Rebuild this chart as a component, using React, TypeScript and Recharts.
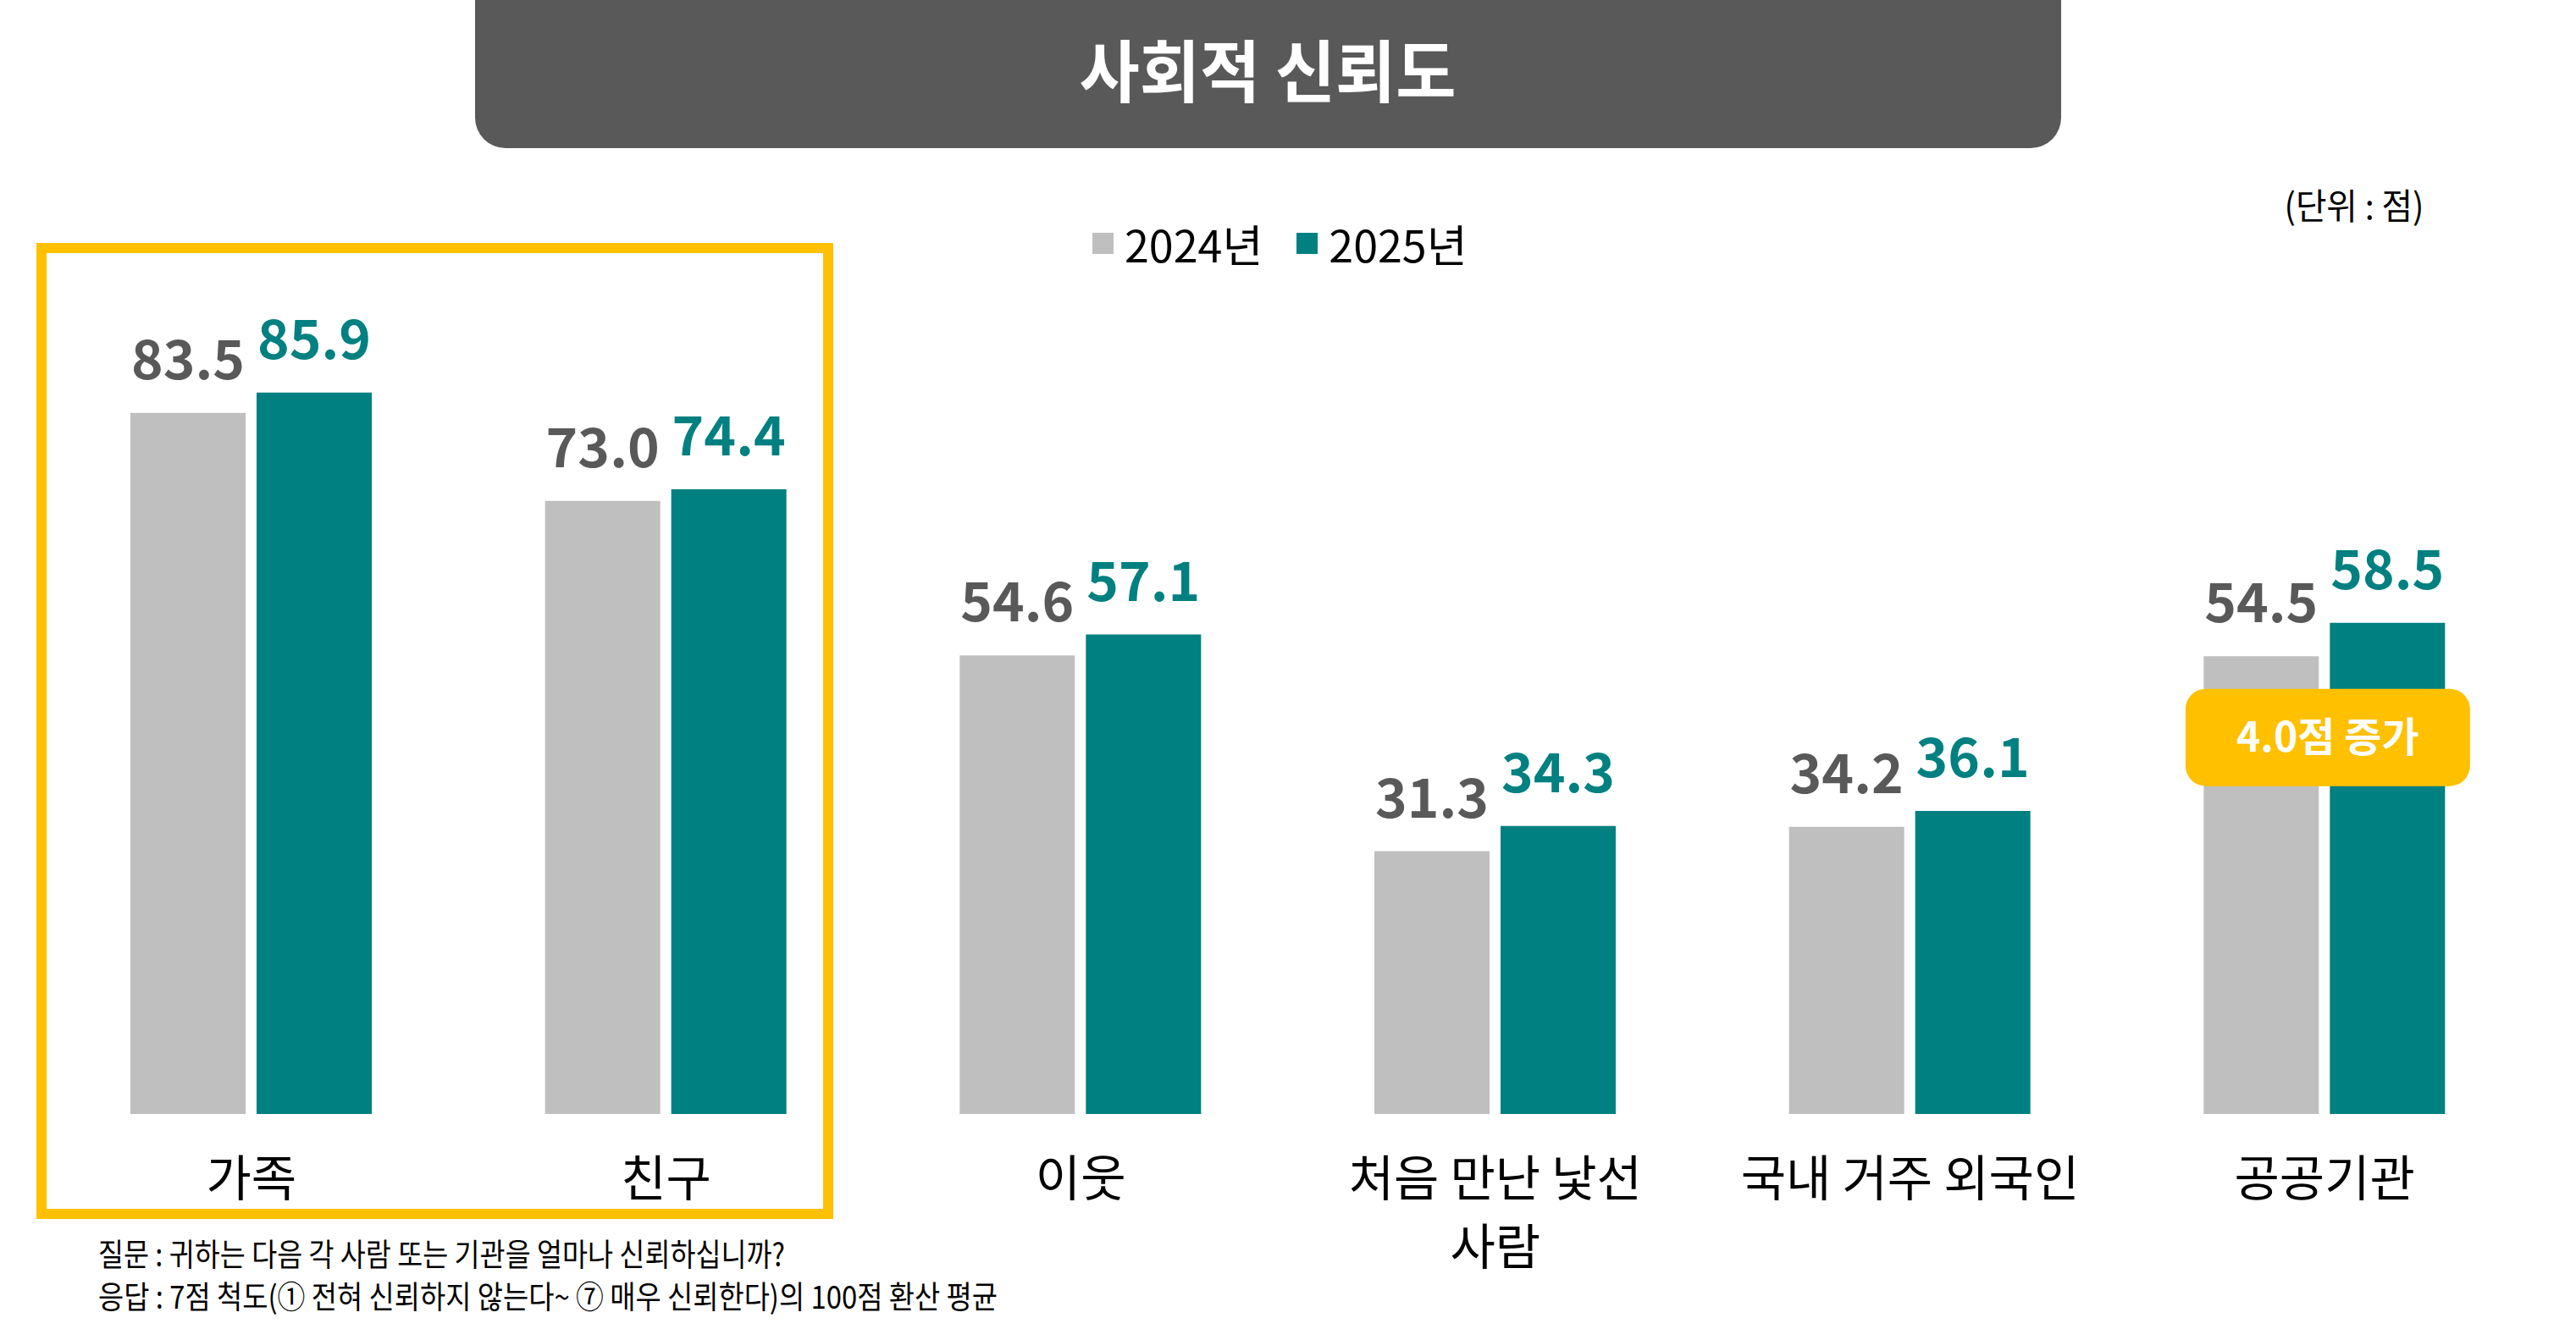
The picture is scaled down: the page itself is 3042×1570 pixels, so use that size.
import React from "react";
import { BarChart, Bar, XAxis, YAxis, LabelList, Legend } from "recharts";

const FONT = "'Noto Sans CJK KR', 'Noto Sans', sans-serif";

const categories = ["가족", "친구", "이웃", "처음 만난 낯선\n사람", "국내 거주 외국인", "공공기관"];
const values2024 = [83.5, 73.0, 54.6, 31.3, 34.2, 54.5];
const values2025 = [85.9, 74.4, 57.1, 34.3, 36.1, 58.5];
const seriesNames = ["2024년", "2025년"];
const seriesColors = ["#BFBFBF", "#008080"];
const labelColors = ["#595959", "#008080"];
const calloutIndex = 5;

const title = "사회적 신뢰도";
const unitText = "(단위 : 점)";
const notes = [
  "질문 : 귀하는 다음 각 사람 또는 기관을 얼마나 신뢰하십니까?",
  "응답 : 7점 척도(① 전혀 신뢰하지 않는다~ ⑦ 매우 신뢰한다)의 100점 환산 평균",
];

const data = categories.map((name, i) => ({
  name,
  y2024: values2024[i],
  y2025: values2025[i],
}));

const W = 3042;
const H = 1570;
const BAR_SIZE = 136;
const BAR_GAP = 13;

const CategoryTick = (props: any) => {
  const { x, y, payload } = props;
  const lines = String(payload.value).split("\n");
  return (
    <text x={x} y={y} textAnchor="middle" fill="#000" fontSize={58} fontFamily={FONT}>
      {lines.map((line, i) => (
        <tspan key={i} x={x} dy={i === 0 ? 97 : 81}>
          {line}
        </tspan>
      ))}
    </text>
  );
};

const Callout = (props: any) => {
  const box = props.viewBox ?? props;
  const idx = props.index ?? values2025.indexOf(Number(props.value));
  if (idx !== calloutIndex) return null;
  const { x, y, width } = box;
  const diff = (values2025[idx] - values2024[idx]).toFixed(1);
  const cx = x + width / 2 - (BAR_SIZE + BAR_GAP) / 2 + 4;
  const w = 336;
  const h = 115;
  const top = y + 78;
  return (
    <g>
      <rect x={cx - w / 2} y={top} width={w} height={h} rx={24} fill="#FFC000" />
      <text
        x={cx}
        y={top + h / 2 + 17}
        textAnchor="middle"
        fill="#fff"
        fontSize={48}
        fontWeight={700}
        fontFamily={FONT}
      >
        {diff}점 증가
      </text>
    </g>
  );
};

const LegendContent = () => (
  <div style={{ display: "flex", alignItems: "center", fontFamily: FONT, fontSize: 52, color: "#000" }}>
    {seriesNames.map((s, i) => (
      <div key={s} style={{ display: "flex", alignItems: "center", marginRight: 40 }}>
        <span style={{ width: 25, height: 25, background: seriesColors[i], marginRight: 13 }} />
        <span>{s}</span>
      </div>
    ))}
  </div>
);

const fmt = (v: any) => Number(v).toFixed(1);

export default function App() {
  return (
    <div style={{ position: "relative", width: W, height: H, overflow: "hidden", background: "#fff" }}>
      <style>{`body{margin:0;}`}</style>
      <BarChart
        width={W}
        height={H}
        data={data}
        margin={{ top: 324, right: 52, bottom: 104, left: 52 }}
        barSize={BAR_SIZE}
        barGap={BAR_GAP}
      >
        <XAxis
          dataKey="name"
          height={150}
          axisLine={false}
          tickLine={false}
          tickSize={0}
          tickMargin={0}
          interval={0}
          tick={<CategoryTick />}
        />
        <YAxis hide domain={[0, 100]} />
        <Legend
          layout="horizontal"
          verticalAlign="middle"
          align="center"
          wrapperStyle={{ top: 250, left: 1290, width: 500, height: 70 }}
          content={<LegendContent />}
        />
        <Bar dataKey="y2024" name={seriesNames[0]} fill={seriesColors[0]} isAnimationActive={false}>
          <LabelList
            dataKey="y2024"
            position="top"
            offset={40}
            formatter={fmt}
            fill={labelColors[0]}
            fontSize={64}
            fontWeight={700}
            fontFamily={FONT}
          />
        </Bar>
        <Bar dataKey="y2025" name={seriesNames[1]} fill={seriesColors[1]} isAnimationActive={false}>
          <LabelList
            dataKey="y2025"
            position="top"
            offset={40}
            formatter={fmt}
            fill={labelColors[1]}
            fontSize={64}
            fontWeight={700}
            fontFamily={FONT}
          />
          <LabelList dataKey="y2025" content={<Callout />} />
        </Bar>
      </BarChart>
      <svg
        width={W}
        height={H}
        style={{ position: "absolute", left: 0, top: 0, pointerEvents: "none" }}
        fontFamily={FONT}
      >
        <rect x={561} y={-40} width={1873} height={215} rx={36} fill="#595959" />
        <text
          x={1497}
          y={114}
          textAnchor="middle"
          fill="#fff"
          fontSize={80}
          fontWeight={700}
          textLength={445}
          lengthAdjust="spacingAndGlyphs"
        >
          {title}
        </text>
        <text
          x={2780}
          y={259}
          textAnchor="middle"
          fill="#000"
          fontSize={42}
          textLength={165}
          lengthAdjust="spacingAndGlyphs"
        >
          {unitText}
        </text>
        <rect x={49} y={293} width={929} height={1141} fill="none" stroke="#FFC000" strokeWidth={12} />
        <text x={116} y={1496} fill="#000" fontSize={37} textLength={811} lengthAdjust="spacingAndGlyphs">
          {notes[0]}
        </text>
        <text x={116} y={1546} fill="#000" fontSize={37} textLength={1062} lengthAdjust="spacingAndGlyphs">
          {notes[1]}
        </text>
      </svg>
    </div>
  );
}
